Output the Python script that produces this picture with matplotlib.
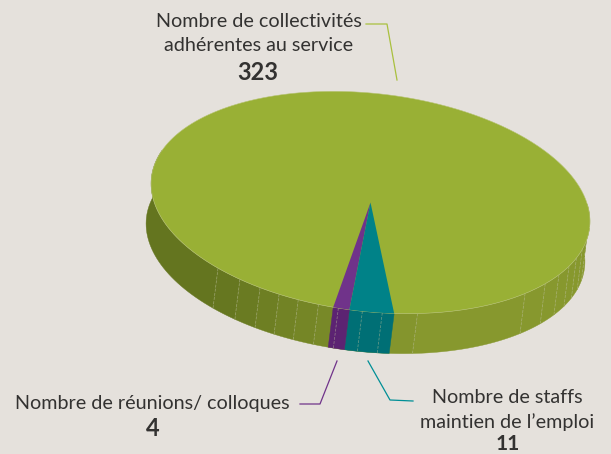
import numpy as np
import matplotlib
matplotlib.use("Agg")
import matplotlib.pyplot as plt
from matplotlib.colors import to_rgb
from matplotlib.patches import Polygon

# donnees du graphique
noms = ["Nombre de collectivités\nadhérentes au service", "Nombre de réunions/ colloques", "Nombre de staffs\nmaintien de l\u2019emploi"]
valeurs = [323, 4, 11]
couleurs_haut = ["#99b035", "#70338a", "#008288"]
couleurs_cote = ["#7b8f28", "#5c2372", "#006f75"]

# graduations sur le flanc (degres autour du bas de l'ellipse)
graduations = [40.8, 33.3, 27, 21.4, 16, 10.5, 5.2, -1.1, -6.3, -15.6, -48, -56, -62.4, -68, -73, -78, -83]

fond = "#e5e1dc"
cx, cy = 370.5, 202.5
a, b = 220.5, 109
incl = np.radians(6.5)
dx, dy = -5, 40
depart = 92.3  # limite entre les tranches violette et sarcelle


def point(t):
    t = np.radians(t)
    x = a * np.cos(t)
    y = b * np.sin(t)
    return cx + x * np.cos(incl) - y * np.sin(incl), cy + x * np.sin(incl) + y * np.cos(incl)


def teinte(t):
    # le flanc s'eclaircit de la gauche vers la droite
    f = np.clip((130 - t) / 55, 0, 1)
    c0 = np.array(to_rgb("#64751f"))
    c1 = np.array(to_rgb("#87982e"))
    return c0 + (c1 - c0) * f


def flanc(t0, t1, coul, z):
    tt = np.linspace(t0, t1, 40)
    x, y = point(tt)
    pts = list(zip(x, y)) + list(zip(x[::-1] + dx, y[::-1] + dy))
    ax.add_patch(Polygon(pts, fc=coul, ec=coul, lw=0.3, zorder=z))


fig = plt.figure(figsize=(6.11, 4.54), dpi=100, facecolor=fond)
ax = fig.add_axes([0, 0, 1, 1])
ax.set_xlim(0, 611)
ax.set_ylim(454, 0)
ax.axis("off")

# angles des tranches
total = sum(valeurs)
viol = valeurs[1] / total * 360
sarc = valeurs[2] / total * 360
t_viol = (depart, depart + viol)
t_sarc = (depart - sarc, depart)

# flanc vert : une facette entre deux graduations
bords = sorted([90 + g for g in graduations] + [-12, 195])
for t0, t1 in zip(bords[:-1], bords[1:]):
    flanc(t0, t1, teinte((t0 + t1) / 2), 1)

flanc(*t_sarc, couleurs_cote[2], 2)
flanc(*t_viol, couleurs_cote[1], 2)

for g in graduations:
    x, y = point(90 + g)
    ax.plot([x, x + dx], [y, y + dy], color="#b9bd98", lw=0.5, ls=(0, (4, 2)), alpha=0.6, zorder=3)

# dessus du camembert
tt = np.linspace(0, 360, 400)
x, y = point(tt)
ax.fill(x, y, color=couleurs_haut[0], lw=0, zorder=4)
ax.plot(x, y, color="#b8c477", lw=0.4, zorder=4)
for (t0, t1), c in zip([t_viol, t_sarc], [couleurs_haut[1], couleurs_haut[2]]):
    tt = np.linspace(t0, t1, 20)
    x, y = point(tt)
    ax.add_patch(Polygon([(cx, cy)] + list(zip(x, y)), fc=c, ec="none", zorder=5))

# traits de rappel
ax.plot([366, 387, 397], [24, 24, 80], color="#a9c03e", lw=0.9, zorder=6)
ax.plot([300, 320, 337], [404, 404, 361], color="#70338a", lw=0.9, zorder=6)
ax.plot([368, 390, 413], [361, 400, 401], color="#008f96", lw=0.9, zorder=6)

# textes
police = "Lato"
txt = "#333231"
ax.text(259, 33.5, noms[0], ha="center", va="center", fontsize=14.2, family=police, color=txt, linespacing=1.55)
ax.text(258, 72, str(valeurs[0]), ha="center", va="center", fontsize=17, fontweight="bold", family=police, color=txt)
ax.text(152.5, 403, noms[1], ha="center", va="center", fontsize=14.2, family=police, color=txt)
ax.text(152.5, 428, str(valeurs[1]), ha="center", va="center", fontsize=17, fontweight="bold", family=police, color=txt)
ax.text(507.5, 410, noms[2], ha="center", va="center", fontsize=14.2, family=police, color=txt, linespacing=1.5)
ax.text(507.5, 450, str(valeurs[2]), ha="center", va="baseline", fontsize=15, fontweight="bold", family=police, color=txt)

fig.savefig("out.png", dpi=100, facecolor=fond)
